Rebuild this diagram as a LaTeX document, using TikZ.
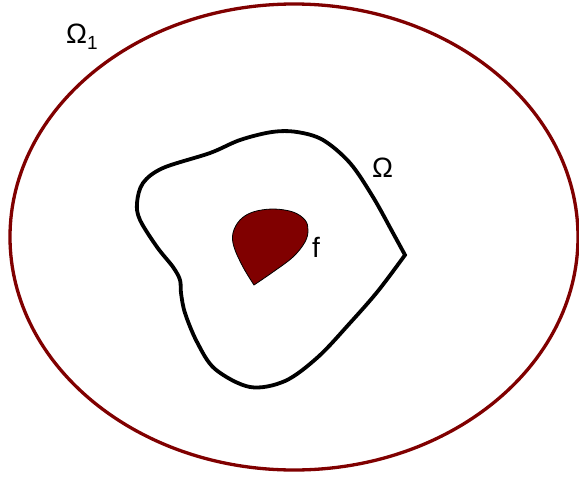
\documentclass[tikz,border=0pt]{standalone}
\usepackage{fontspec}
\setmainfont{Liberation Sans}
\definecolor{maroonred}{RGB}{128,0,0}
\begin{document}
\begin{tikzpicture}[x=1pt,y=-1pt,
  outerline/.style={draw=maroonred,line width=3.3pt},
  innerline/.style={draw=black,line width=3.8pt,line join=miter},
  blob/.style={fill=maroonred,draw=black,line width=0.8pt},
  lbl/.style={anchor=base west,inner sep=0pt,font=\fontsize{28}{28}\selectfont}]
\useasboundingbox (0,0) rectangle (579,480);
\draw[outerline] (294,237) ellipse [x radius=284, y radius=233];
\draw[innerline] plot[smooth,tension=0.55] coordinates {
  (405,255) (393,233) (373,197) (350,163) (323,140) (297,132) (272,132)
  (240,140) (210,153) (163,168) (143,183) (137,203) (140,220) (157,247)
  (173,267) (180,280) (181,293) (185,313) (197,342) (215,369) (250,387)
  (285,381) (318,357) (350,323) (378,291) (405,255)} -- cycle;
\draw[blob] plot[smooth,tension=0.6] coordinates {
  (254,285) (243,267) (234,247) (233,233) (240,220) (253,212) (273,209)
  (293,212) (305,220) (308,230) (305,242) (293,257) (273,272) (254,285)} -- cycle;
\node[lbl] (om1) at (66,43) {Ω{\fontsize{19}{19}\selectfont\raisebox{-6pt}{1}}};
\node[lbl] (om) at (372,177) {Ω};
\node[lbl] (f) at (312,257) {f};
\end{tikzpicture}
\end{document}
